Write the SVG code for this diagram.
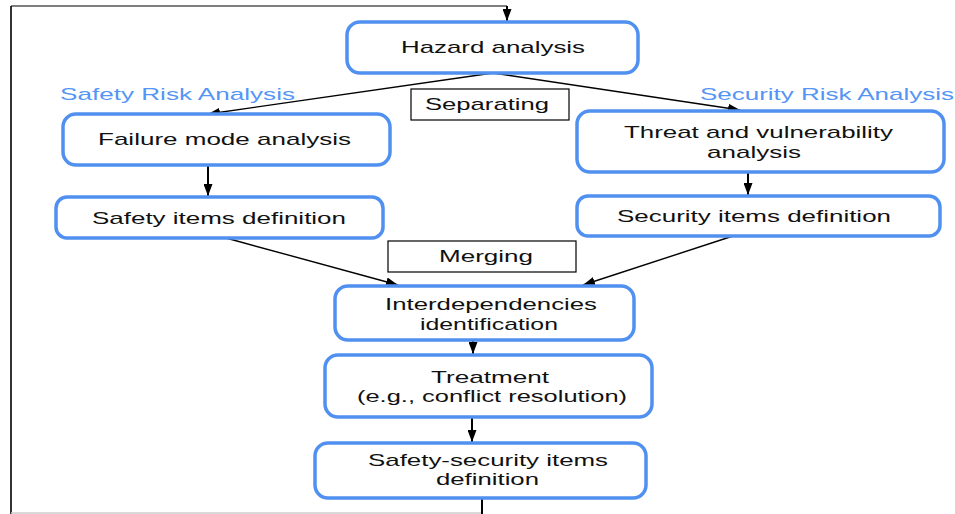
<svg xmlns="http://www.w3.org/2000/svg" width="955" height="514" viewBox="0 0 955 514">
<defs>
<marker id="ah" markerWidth="12" markerHeight="9" refX="12" refY="4.5" orient="auto" markerUnits="userSpaceOnUse">
<path d="M0,0 L12,4.5 L0,9 Z" fill="#000"/>
</marker>
<style>
.node rect{fill:#fff;stroke:#5090f0;stroke-width:3.5}
.lbl rect{fill:#fff;stroke:#000;stroke-width:1.2}
text{font-family:"Liberation Sans",Arial,sans-serif;font-size:17px;fill:#111;text-anchor:start}
.blue{fill:#5595f5}
.conn line{stroke:#000;stroke-width:1.4;fill:none}
.conn line.v{stroke-width:2}
</style>
</defs>
<rect width="955" height="514" fill="#fff"/>
<g id="frame">
<line x1="11" y1="6" x2="11" y2="514" stroke="#333" stroke-width="2"/>
<line x1="11" y1="513" x2="482" y2="513" stroke="#ccc" stroke-width="1.5"/>
<line x1="11" y1="6" x2="507" y2="6" stroke="#000" stroke-width="1.2"/>
</g>
<g class="conn" id="connectors">
<line class="v" x1="507" y1="6" x2="507" y2="21" marker-end="url(#ah)"/>
<line x1="493" y1="73" x2="208" y2="114" marker-end="url(#ah)"/>
<line x1="493" y1="73" x2="740" y2="110" marker-end="url(#ah)"/>
<line class="v" x1="208" y1="166" x2="208" y2="196" marker-end="url(#ah)"/>
<line class="v" x1="748" y1="173" x2="748" y2="195" marker-end="url(#ah)"/>
<line x1="226" y1="238" x2="398" y2="285" marker-end="url(#ah)"/>
<line x1="733" y1="236" x2="583" y2="285" marker-end="url(#ah)"/>
<line class="v" x1="473" y1="341" x2="473" y2="354" marker-end="url(#ah)"/>
<line class="v" x1="472" y1="418" x2="472" y2="442" marker-end="url(#ah)"/>
<line class="v" x1="482" y1="499" x2="482" y2="514"/>
</g>
<g id="hazard" class="node"><rect x="347" y="22" width="291" height="51" rx="13"/><text x="401" y="53" textLength="184" lengthAdjust="spacingAndGlyphs">Hazard analysis</text></g>
<text class="blue" x="60" y="100" textLength="235" lengthAdjust="spacingAndGlyphs">Safety Risk Analysis</text>
<text class="blue" x="700" y="100" textLength="254" lengthAdjust="spacingAndGlyphs">Security Risk Analysis</text>
<g id="separating" class="lbl"><rect x="411" y="89" width="158" height="31"/><text x="425" y="110" textLength="124" lengthAdjust="spacingAndGlyphs">Separating</text></g>
<g id="failure" class="node"><rect x="63" y="114" width="327" height="51" rx="13"/><text x="98" y="145" textLength="253" lengthAdjust="spacingAndGlyphs">Failure mode analysis</text></g>
<g id="threat" class="node"><rect x="577" y="111" width="367" height="61" rx="13"/><text x="624" y="138" textLength="269" lengthAdjust="spacingAndGlyphs">Threat and vulnerability</text><text x="707" y="158" textLength="94" lengthAdjust="spacingAndGlyphs">analysis</text></g>
<g id="safetyitems" class="node"><rect x="56" y="197" width="327" height="41" rx="11"/><text x="92" y="224" textLength="254" lengthAdjust="spacingAndGlyphs">Safety items definition</text></g>
<g id="securityitems" class="node"><rect x="577" y="196" width="363" height="40" rx="11"/><text x="617" y="222" textLength="274" lengthAdjust="spacingAndGlyphs">Security items definition</text></g>
<g id="merging" class="lbl"><rect x="388" y="241" width="188" height="31"/><text x="439" y="262" textLength="94" lengthAdjust="spacingAndGlyphs">Merging</text></g>
<g id="interdep" class="node"><rect x="335" y="286" width="299" height="54" rx="13"/><text x="385" y="310" textLength="212" lengthAdjust="spacingAndGlyphs">Interdependencies</text><text x="420" y="330" textLength="138" lengthAdjust="spacingAndGlyphs">identification</text></g>
<g id="treatment" class="node"><rect x="325" y="355" width="327" height="62" rx="13"/><text x="431" y="383" textLength="118" lengthAdjust="spacingAndGlyphs">Treatment</text><text x="357" y="402" textLength="270" lengthAdjust="spacingAndGlyphs">(e.g., conflict resolution)</text></g>
<g id="sfsec" class="node"><rect x="315" y="443" width="331" height="55" rx="13"/><text x="368" y="466" textLength="240" lengthAdjust="spacingAndGlyphs">Safety-security items</text><text x="436" y="485" textLength="103" lengthAdjust="spacingAndGlyphs">definition</text></g>
</svg>
